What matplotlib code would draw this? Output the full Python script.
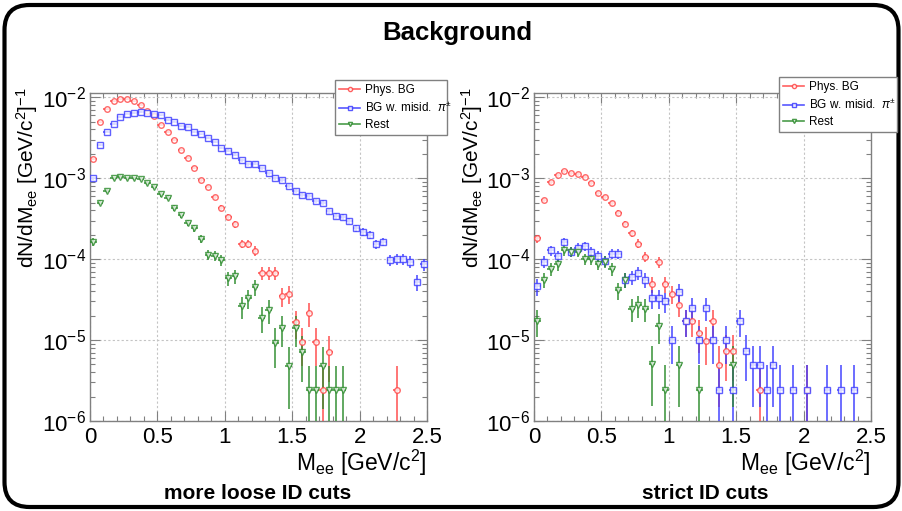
import numpy as np
import matplotlib
matplotlib.use("Agg")
import matplotlib.pyplot as plt
from matplotlib.patches import FancyBboxPatch
from matplotlib.lines import Line2D
from matplotlib.ticker import MultipleLocator, LogLocator, NullFormatter, FuncFormatter

plt.rcParams['font.family'] = ['Liberation Sans', 'DejaVu Sans']
plt.rcParams['mathtext.fontset'] = 'custom'
plt.rcParams['mathtext.rm'] = 'Liberation Sans'
plt.rcParams['mathtext.it'] = 'Liberation Sans:italic'
plt.rcParams['mathtext.bf'] = 'Liberation Sans:bold'

# 直方图分箱: 0 - 2.5 GeV/c^2, 每箱 0.05
bin_edges = np.linspace(0.0, 2.5, 51)
bin_centers = 0.5 * (bin_edges[:-1] + bin_edges[1:])
half_width = 0.5 * (bin_edges[1] - bin_edges[0])

count_unit = 2.4e-6  # 一个计数对应的 dN/dM

# more loose ID cuts (0 = 空箱)
loose_phys = [1.72e-3, 4.9e-3, 7.1e-3, 8.9e-3, 9.4e-3, 9.4e-3, 8.9e-3, 8.1e-3, 6.8e-3, 5.8e-3,
              4.6e-3, 3.7e-3, 3.0e-3, 2.24e-3, 1.77e-3, 1.35e-3, 9.5e-4, 7.9e-4, 5.9e-4, 4.3e-4,
              3.36e-4, 2.7e-4, 1.55e-4, 1.55e-4, 1.26e-4, 6.8e-5, 6.8e-5, 6.8e-5, 3.5e-5, 3.7e-5,
              1.68e-5, 9.5e-6, 2.15e-5, 9.5e-6, 2.4e-6, 7.2e-6, 0, 0, 0, 0,
              0, 0, 0, 0, 0, 2.4e-6, 0, 0, 0, 0]
loose_misid = [1.0e-3, 2.6e-3, 3.77e-3, 4.64e-3, 5.7e-3, 6.3e-3, 6.4e-3, 6.6e-3, 6.4e-3, 6.2e-3,
               6.0e-3, 5.25e-3, 5.0e-3, 4.4e-3, 4.3e-3, 3.7e-3, 3.47e-3, 3.12e-3, 2.8e-3, 2.35e-3,
               2.2e-3, 1.96e-3, 1.66e-3, 1.49e-3, 1.52e-3, 1.32e-3, 1.15e-3, 1.0e-3, 9.5e-4, 8.0e-4,
               7.0e-4, 6.2e-4, 5.95e-4, 5.25e-4, 5.0e-4, 3.9e-4, 3.43e-4, 3.3e-4, 2.97e-4, 2.4e-4,
               2.18e-4, 2.0e-4, 1.52e-4, 1.65e-4, 9.8e-5, 1.0e-4, 1.0e-4, 9.3e-5, 5.2e-5, 8.6e-5]
loose_rest = [1.65e-4, 5.0e-4, 7.0e-4, 1.0e-3, 1.05e-3, 1.0e-3, 1.0e-3, 9.9e-4, 8.7e-4, 7.7e-4,
              6.3e-4, 5.75e-4, 4.3e-4, 3.5e-4, 2.8e-4, 2.4e-4, 1.77e-4, 1.13e-4, 1.1e-4, 9.8e-5,
              5.8e-5, 6.2e-5, 2.6e-5, 3.3e-5, 4.5e-5, 1.9e-5, 2.35e-5, 9.3e-6, 1.4e-5, 4.8e-6,
              1.4e-5, 7.2e-6, 2.4e-6, 2.4e-6, 4.8e-6, 2.4e-6, 2.4e-6, 2.4e-6, 0, 0,
              0, 0, 0, 0, 0, 0, 0, 0, 0, 0]

# strict ID cuts
strict_phys = [1.8e-4, 5.4e-4, 9.0e-4, 1.09e-3, 1.22e-3, 1.15e-3, 1.13e-3, 1.05e-3, 8.7e-4, 6.5e-4,
               5.9e-4, 4.9e-4, 3.7e-4, 2.73e-4, 2.09e-4, 1.56e-4, 1.07e-4, 4.9e-5, 9.2e-5, 4.9e-5,
               3.7e-5, 2.75e-5, 1.72e-5, 1.72e-5, 1.23e-5, 9.8e-6, 1.72e-5, 4.9e-6, 7.35e-6, 7.35e-6,
               0, 0, 0, 2.45e-6, 0, 0, 0, 0, 0, 0,
               2.45e-6, 0, 0, 0, 0, 0, 0, 0, 0, 0]
strict_misid = [4.6e-5, 9.3e-5, 1.28e-4, 1.09e-4, 1.64e-4, 1.23e-4, 1.38e-4, 1.46e-4, 1.23e-4, 1.09e-4,
                9.4e-5, 1.16e-4, 1.16e-4, 5.6e-5, 6.0e-5, 6.8e-5, 5.5e-5, 3.3e-5, 3.3e-5, 3.0e-5,
                9.9e-6, 3.9e-5, 1.72e-5, 2.5e-5, 9.9e-6, 2.5e-5, 9.9e-6, 2.45e-6, 9.9e-6, 2.45e-6,
                1.72e-5, 7.35e-6, 4.9e-6, 4.9e-6, 2.45e-6, 4.9e-6, 2.45e-6, 0, 2.45e-6, 0,
                2.45e-6, 0, 0, 2.45e-6, 0, 2.45e-6, 0, 2.45e-6, 0, 0]
strict_rest = [1.72e-5, 5.6e-5, 7.5e-5, 8.6e-5, 1.28e-4, 1.23e-4, 1.23e-4, 1.0e-4, 1.0e-4, 8.8e-5,
               9.3e-5, 7.5e-5, 4.1e-5, 5.5e-5, 2.45e-5, 2.7e-5, 2.45e-5, 5.0e-6, 1.5e-5, 2.45e-6,
               0, 4.9e-6, 0, 0, 2.45e-6, 0, 0, 0, 0, 4.9e-6,
               0, 0, 0, 0, 0, 0, 0, 0, 0, 0,
               0, 0, 0, 0, 0, 0, 0, 0, 0, 0]

series_labels = ["Phys. BG", r"BG w. misid.  $\pi^{\pm}$", "Rest"]
series_colors = ["#ff4545", "#3a3aff", "#2a8a2a"]
series_markers = ["o", "s", "v"]


def draw_hist(ax, values, color, marker):
    v = np.asarray(values, dtype=float)
    mask = v > 0
    x = bin_centers[mask]
    y = v[mask]
    err = np.sqrt(y * count_unit)  # 泊松误差
    lo = np.minimum(err, y * 0.9999)
    ax.errorbar(x, y, yerr=[lo, err], xerr=half_width, fmt=marker, color=color,
                mfc="white", mec=color, ms=4, mew=1.0, elinewidth=1.3, capsize=0,
                alpha=0.8, zorder=3)


def style_axes(ax):
    ax.set_yscale("log")
    ax.set_xlim(0, 2.5)
    ax.set_ylim(1e-6, 1.13e-2)
    ax.xaxis.set_major_locator(MultipleLocator(0.5))
    ax.xaxis.set_minor_locator(MultipleLocator(0.1))
    ax.xaxis.set_major_formatter(FuncFormatter(lambda v, p: f"{v:g}"))
    ax.yaxis.set_major_locator(LogLocator(base=10, numticks=10))
    ax.yaxis.set_minor_locator(LogLocator(base=10, subs=np.arange(2, 10), numticks=10))
    ax.yaxis.set_minor_formatter(NullFormatter())
    ax.tick_params(which="both", direction="in", top=True, right=True,
                   color="#808080", labelcolor="black", labelsize=16)
    ax.tick_params(which="major", length=7, width=0.8)
    ax.tick_params(which="minor", length=3.5, width=0.8)
    ax.tick_params(axis="x", pad=4)
    ax.tick_params(axis="y", pad=3)
    for s in ax.spines.values():
        s.set_color("#808080")
        s.set_linewidth(1.0)
    ax.grid(True, which="major", color="#c4c4c4", linestyle=(0, (2, 2)), linewidth=0.8)


W, H = 903, 511
fig = plt.figure(figsize=(W / 100, H / 100), dpi=100)

# 圆角外框
border = FancyBboxPatch((0.045, 0.04), 8.94, 5.02, boxstyle="round,pad=0,rounding_size=0.25",
                        transform=fig.dpi_scale_trans, fill=False, edgecolor="black", linewidth=3)
fig.patches.append(border)

fig.text(457 / W, 1 - 33 / H, "Background", ha="center", va="center", fontsize=18.5, fontweight="bold")

panels = [
    ((90, 421, 427, 93), [loose_phys, loose_misid, loose_rest], "more loose ID cuts", 258, 27,
     (335, 80, 447, 129)),
    ((534, 421, 871, 93), [strict_phys, strict_misid, strict_rest], "strict ID cuts", 705, 472,
     (779, 77, 897, 127)),
]

ylabel = r"dN/dM$_{\rm ee}$ [GeV/c$^{2}$]$^{-1}$"
xlabel = r"M$_{\rm ee}$ [GeV/c$^{2}$]"

for (x0, y0, x1, y1), data, subtitle, sub_x, ylab_x, leg in panels:
    ax = fig.add_axes([x0 / W, 1 - y0 / H, (x1 - x0) / W, (y0 - y1) / H])
    for vals, c, m in zip(data, series_colors, series_markers):
        draw_hist(ax, vals, c, m)
    style_axes(ax)

    fig.text(ylab_x / W, 1 - 87 / H, ylabel, rotation=90, ha="center", va="top", fontsize=15)
    fig.text(x1 / W, 1 - 463 / H, xlabel, ha="right", va="center", fontsize=16.5)
    fig.text(sub_x / W, 1 - 493 / H, subtitle, ha="center", va="center", fontsize=15, fontweight="bold")

    handles = [Line2D([], [], color=c, marker=m, ms=3, mfc="white", mec=c, lw=1.2, alpha=0.85)
               for c, m in zip(series_colors, series_markers)]
    lx0, ly0, lx1, ly1 = leg
    fig.legend(handles, series_labels, loc="upper left",
               bbox_to_anchor=(lx0 / W, 1 - ly1 / H, (lx1 - lx0) / W, (ly1 - ly0) / H),
               mode="expand", fontsize=8.5, frameon=True, fancybox=False, framealpha=1,
               edgecolor="#808080", borderpad=0.35, labelspacing=0.35, handlelength=1.8,
               handletextpad=0.4, borderaxespad=0)

fig.savefig("out.png", dpi=100)
